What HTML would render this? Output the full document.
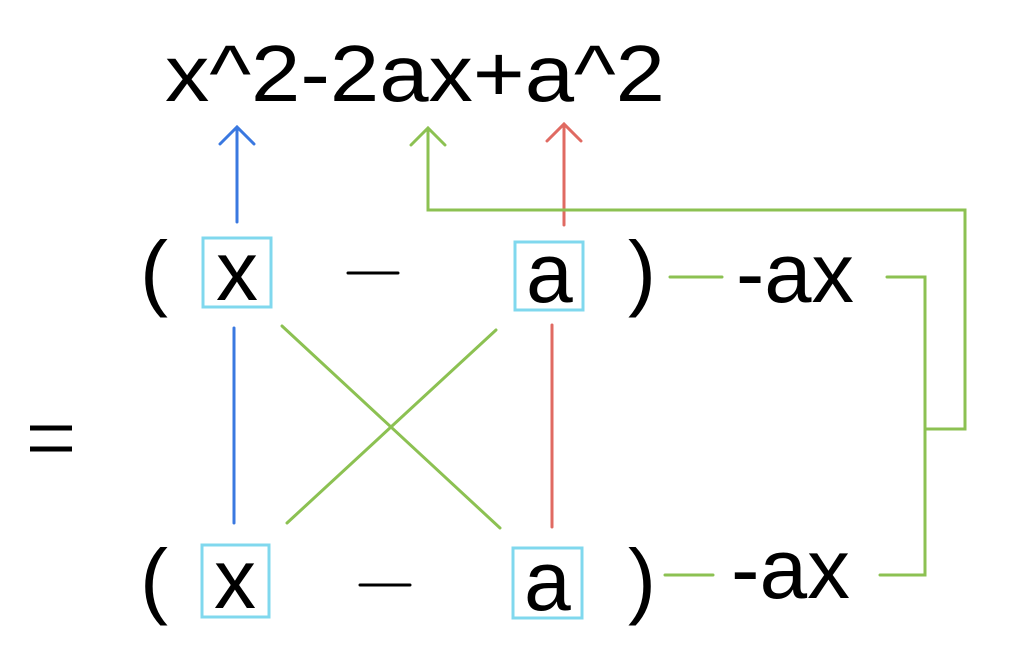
<!DOCTYPE html>
<html><head><meta charset="utf-8"><style>html,body{margin:0;padding:0;background:#fff}svg{display:block}</style></head>
<body>
<svg width="1024" height="664" viewBox="0 0 1024 664" xmlns="http://www.w3.org/2000/svg" font-family="Liberation Sans, Arial, sans-serif">
<rect width="1024" height="664" fill="#fff"/>
<text x="165" y="101" font-size="80" textLength="500" lengthAdjust="spacingAndGlyphs">x^2-2ax+a^2</text>
<g fill="none" stroke-width="3" stroke-linecap="round">
<!-- arrows -->
<path d="M237 222V127M220 144L237 127L254 144" stroke="#3a78e0"/>
<path d="M564 225V124M547 141L564 124L581 141" stroke="#e06a62"/>
<path d="M428 128V210H965V429H925M411 145L428 128L445 145" stroke="#8cc152"/>
<!-- boxes -->
<rect x="203" y="238" width="68" height="69" stroke="#80d8ee"/>
<rect x="515" y="242" width="68" height="68" stroke="#80d8ee"/>
<rect x="202" y="545" width="67" height="72" stroke="#80d8ee"/>
<rect x="513" y="548" width="69" height="70" stroke="#80d8ee"/>
<!-- lines -->
<path d="M234 328V523" stroke="#3a78e0"/>
<path d="M552 325V527" stroke="#e06a62"/>
<path d="M282 326L500 528M496 330L287 523" stroke="#8cc152"/>
<path d="M670 277H722M887 277H925V575H880M665 575H713" stroke="#8cc152"/>
<!-- minus -->
<path d="M348 273H398M360 585H410" stroke="#000"/>
<path d="M30 428H72M30 449H72" stroke="#000" stroke-width="5" stroke-linecap="butt"/>
</g>
<g font-size="84">
<text x="140" y="300">(</text>
<text x="628" y="300">)</text>
<text x="140" y="608">(</text>
<text x="628" y="608">)</text>
<text x="216" y="300">x</text>
<text x="526" y="302">a</text>
<text x="214" y="608">x</text>
<text x="524" y="610">a</text>
<text x="736" y="302" textLength="118" lengthAdjust="spacingAndGlyphs">-ax</text>
<text x="731" y="598" textLength="119" lengthAdjust="spacingAndGlyphs">-ax</text>
</g>
</svg>
</body></html>
